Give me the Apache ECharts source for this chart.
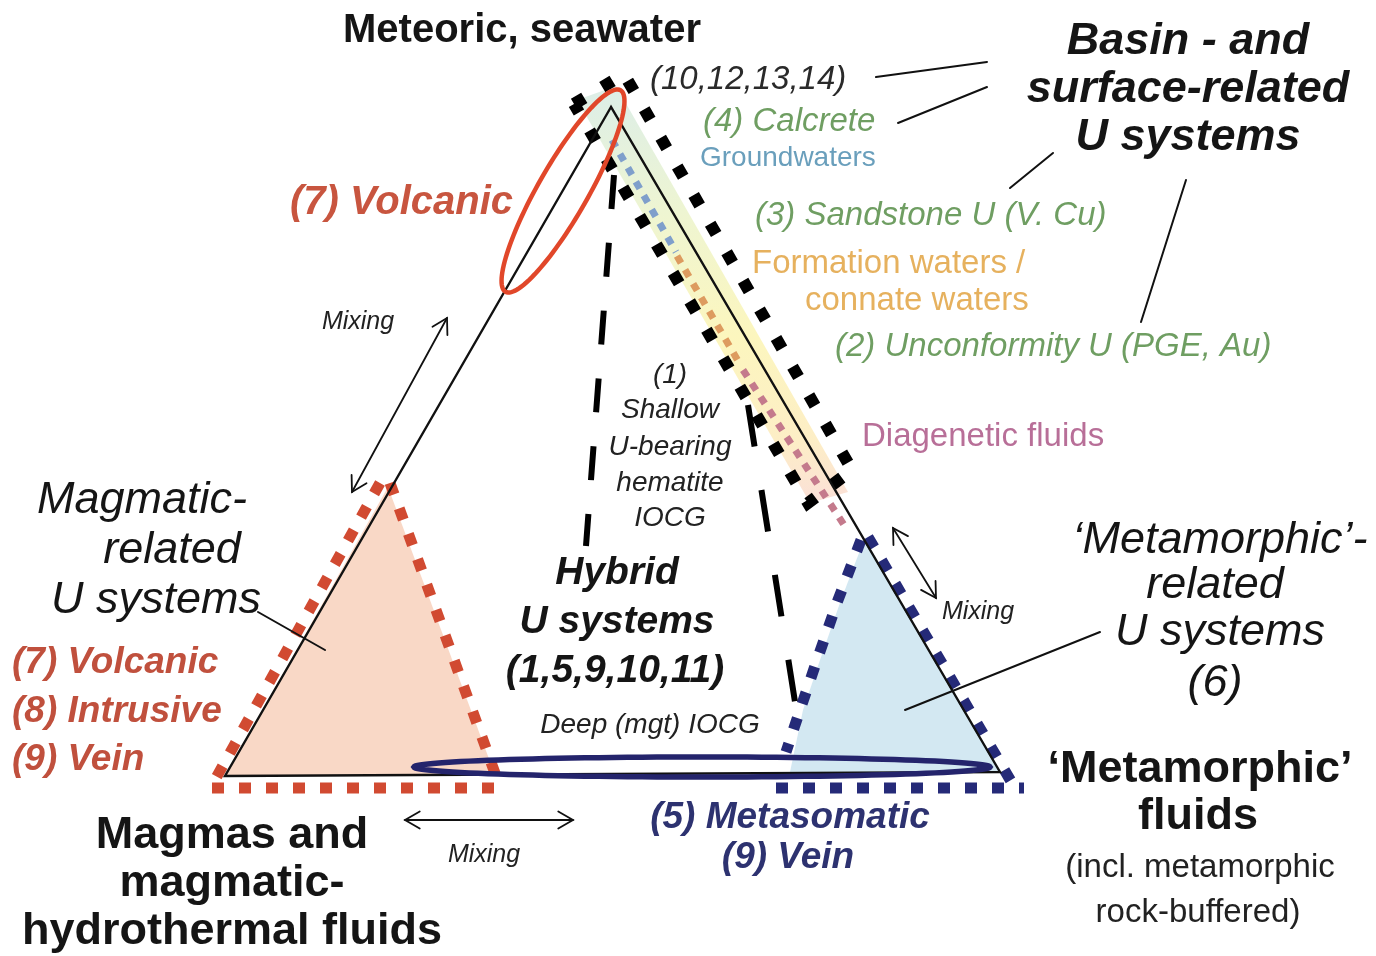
<!DOCTYPE html>
<html><head><meta charset="utf-8">
<script src="https://cdn.jsdelivr.net/npm/echarts@6/dist/echarts.min.js"></script>
<style>html,body{margin:0;padding:0;background:#fff}#c{width:1376px;height:956px}</style>
</head><body><div id="c"></div>
<script>
// ---------- diagram geometry (diagram units, y downward) ----------
const mainTriangle = [[611,107],[225,776],[1000,772]];
const magmaticFill = [[388,487],[226,775],[495,775]];
const magmaticDotLeft = [[380,483],[211,787]];
const magmaticDotRight = [[390,483],[500,787]];
const magmaticDotBottom = [[212,788],[503,788]];
const metamorphicFill = [[864,540],[841,600],[820,660],[803,710],[790,772],[1000,772]];
const metamorphicDotLeft = [[861,540],[838,600],[817,660],[800,710],[786,752]];
const metamorphicDotRight = [[868,537],[1012,783]];
const metamorphicDotBottom = [[776,788],[1024,788]];
const basinBand = [[574,104],[624,74],[852,470],[808,503]];
const basinFill = [[577,100],[616,86],[848,492],[810,503]];
const groundwaterDots = [[612,140],[676,252]];
const formationDots = [[677,256],[741,366]];
const diageneticDots = [[743,370],[846,528]];
const hybridDashLeft = [[614,175],[586,546]];
const hybridDashRight = [[748,405],[795,702]];
const volcanicEllipse = [[563,191],[116,25],[113,-198]]; // centre, radii, long-axis direction
const metasomaticEllipse = [[702,767],[288,10],[1,0]];
const mixingArrows = [[[447,318],[352,492]],[[893,528],[936,598]],[[405,820],[573,820]]];
const leaderLines = [[[876,77],[987,62]],[[898,123],[987,87]],[[1010,188],[1053,153]],[[1141,322],[1186,180]],[[258,612],[325,650]],[[905,710],[1100,632]]];

// ---------- labels ----------
const meteoricLabel = [["Meteoric, seawater",522,31]];
const basinTitle = [["Basin - and",1188,42],["surface-related",1188,90],["U systems",1188,138]];
const basinNumbers = [["(10,12,13,14)",650,80]];
const basinDeposits = [["(4) Calcrete",703,122],["(3) Sandstone U (V. Cu)",755,216],["(2) Unconformity U (PGE, Au)",835,347]];
const groundwaterLabel = [["Groundwaters",700,158]];
const formationLabel = [["Formation waters /",752,264],["connate waters",805,301]];
const diageneticLabel = [["Diagenetic fluids",862,437]];
const volcanicTopLabel = [["(7) Volcanic",290,203]];
const mixingLabels = [["Mixing",358,322],["Mixing",978,612],["Mixing",484,855]];
const shallowLabel = [["(1)",670,375],["Shallow",670,410],["U-bearing",670,447],["hematite",670,483],["IOCG",670,518]];
const magmaticTitle = [["Magmatic-",142,500],["related",172,550],["U systems",156,600]];
const magmaticDeposits = [["(7) Volcanic",12,663],["(8) Intrusive",12,712],["(9) Vein",12,760]];
const hybridTitle = [["Hybrid",617,573],["U systems",617,622],["(1,5,9,10,11)",615,671]];
const deepLabel = [["Deep (mgt) IOCG",650,725]];
const metamorphicTitle = [["\u2018Metamorphic\u2019-",1220,540],["related",1215,585],["U systems",1220,632],["(6)",1215,683]];
const endMemberLabels = [["\u2018Metamorphic\u2019",1200,770],["fluids",1198,817],["Magmas and",232,836],["magmatic-",232,884],["hydrothermal fluids",232,932]];
const metamorphicNote = [["(incl. metamorphic",1200,868],["rock-buffered)",1198,913]];
const metasomaticLabel = [["(5) Metasomatic",790,818],["(9) Vein",788,858]];

// ---------- rendering ----------
const FONT = "'Liberation Sans', Arial, Helvetica, sans-serif";
const chart = echarts.init(document.getElementById('c'));

function shapeSeries(z, build) {
  return {
    type: 'custom', coordinateSystem: 'cartesian2d', data: [[0, 0]], silent: true, z: z,
    animation: false, clip: false,
    renderItem: (params, api) => ({ type: 'group', children: build(pts => pts.map(p => api.coord(p))) })
  };
}
function dotted(points, color, width, dash) {
  return { type: 'polyline', shape: { points: points }, style: { stroke: color, lineWidth: width, lineDash: dash, lineCap: 'butt', lineJoin: 'miter', fill: null } };
}
function solid(points, color, width) {
  return { type: 'polyline', shape: { points: points }, style: { stroke: color, lineWidth: width, fill: null, lineCap: 'round' } };
}
function ellipsePts(e, n) {
  const c = e[0], a = e[1][0], b = e[1][1];
  const L = Math.hypot(e[2][0], e[2][1]);
  const u = [e[2][0] / L, e[2][1] / L], v = [-u[1], u[0]];
  const out = [];
  for (let i = 0; i < n; i++) {
    const t = 2 * Math.PI * i / n;
    out.push([c[0] + a * Math.cos(t) * u[0] + b * Math.sin(t) * v[0], c[1] + a * Math.cos(t) * u[1] + b * Math.sin(t) * v[1]]);
  }
  return out;
}
function arrowHeads(pA, pB) {
  const res = [];
  [[pA, pB], [pB, pA]].forEach(([s, e]) => {
    const dx = e[0] - s[0], dy = e[1] - s[1], L = Math.hypot(dx, dy);
    const ux = dx / L, uy = dy / L, h = 17, ang = Math.PI / 6;
    const r = (x, y, a) => [x * Math.cos(a) - y * Math.sin(a), x * Math.sin(a) + y * Math.cos(a)];
    const l1 = r(-ux, -uy, ang), l2 = r(-ux, -uy, -ang);
    res.push([[e[0] + l1[0] * h, e[1] + l1[1] * h], e, [e[0] + l2[0] * h, e[1] + l2[1] * h]]);
  });
  return res;
}
function textSeries(items, font, color, align, z) {
  return {
    type: 'custom', coordinateSystem: 'cartesian2d', silent: true, z: z || 20, animation: false, clip: false,
    data: items.map(d => [d[1], d[2]]),
    renderItem: (params, api) => {
      const p = api.coord([api.value(0), api.value(1)]);
      return { type: 'text', x: p[0], y: p[1], style: { text: items[params.dataIndex][0], font: font, fill: color, align: align, verticalAlign: 'middle' } };
    }
  };
}

const RED = '#d14a31', NAVY = '#252a78', BLACK = '#111111';
const bandGradient = new echarts.graphic.LinearGradient(0, 0, 0, 1, [
  { offset: 0, color: '#dceee8' }, { offset: 0.3, color: '#eef5d2' }, { offset: 0.6, color: '#fcf6be' },
  { offset: 0.85, color: '#fdeec6' }, { offset: 1, color: '#fbe0d8' }]);

const series = [
  // fills
  shapeSeries(1, c => [
    { type: 'polygon', shape: { points: c(magmaticFill) }, style: { fill: '#f9d8c6' } },
    { type: 'polygon', shape: { points: c(metamorphicFill) }, style: { fill: '#d3e8f2' } },
    { type: 'polygon', shape: { points: c(basinFill) }, style: { fill: bandGradient } }
  ]),
  // fluid-type dots along the basin edge
  shapeSeries(2, c => [
    dotted(c(groundwaterDots), '#7f9fcb', 7, [8, 8]),
    dotted(c(formationDots), '#dd9b5f', 7, [8, 8]),
    dotted(c(diageneticDots), '#c47a8c', 7, [8, 8])
  ]),
  // dotted system boundaries
  shapeSeries(3, c => [
    dotted(c(magmaticDotLeft), RED, 11, [12, 15]),
    dotted(c(magmaticDotRight), RED, 11, [12, 15]),
    dotted(c(magmaticDotBottom), RED, 11, [12, 15]),
    dotted(c(metamorphicDotLeft), NAVY, 11, [12, 15]),
    dotted(c(metamorphicDotRight), NAVY, 11, [12, 15]),
    dotted(c(metamorphicDotBottom), NAVY, 11, [12, 15]),
    dotted(c(basinBand.concat([basinBand[0]])), '#000', 12, [12, 21])
  ]),
  // main triangle
  shapeSeries(4, c => [
    { type: 'polygon', shape: { points: c(mainTriangle) }, style: { fill: null, stroke: BLACK, lineWidth: 2.4 } }
  ]),
  // ellipses
  shapeSeries(5, c => [
    { type: 'polygon', shape: { points: c(ellipsePts(metasomaticEllipse, 120)) }, style: { fill: null, stroke: '#24246c', lineWidth: 5.5 } },
    { type: 'polygon', shape: { points: c(ellipsePts(volcanicEllipse, 120)) }, style: { fill: null, stroke: '#e1472a', lineWidth: 4.5 } }
  ]),
  // hybrid dashed lines
  shapeSeries(6, c => [
    dotted(c(hybridDashLeft), '#000', 6, [34, 34]),
    dotted(c(hybridDashRight), '#000', 6, [42, 44])
  ]),
  // arrows and leaders
  shapeSeries(7, c => {
    const out = [];
    mixingArrows.forEach(a => {
      out.push(solid(c(a), '#111', 1.8));
      arrowHeads(a[0], a[1]).forEach(h => out.push(solid(c(h), '#111', 1.8)));
    });
    leaderLines.forEach(l => out.push(solid(c(l), '#111', 2)));
    return out;
  }),
  // labels
  textSeries(meteoricLabel, 'bold 40px ' + FONT, '#151515', 'center'),
  textSeries(basinTitle, 'italic bold 45px ' + FONT, '#151515', 'center'),
  textSeries(basinNumbers, 'italic 33px ' + FONT, '#2a2a2a', 'left'),
  textSeries(basinDeposits, 'italic 33px ' + FONT, '#6f9e62', 'left'),
  textSeries(groundwaterLabel, '28px ' + FONT, '#6a9fbc', 'left'),
  textSeries(formationLabel, '33px ' + FONT, '#e6b15e', 'left'),
  textSeries(diageneticLabel, '33px ' + FONT, '#b86f98', 'left'),
  textSeries(volcanicTopLabel, 'italic bold 40px ' + FONT, '#c8553f', 'left'),
  textSeries(mixingLabels, 'italic 25px ' + FONT, '#222', 'center'),
  textSeries(shallowLabel, 'italic 28px ' + FONT, '#222', 'center'),
  textSeries(magmaticTitle, 'italic 45px ' + FONT, '#151515', 'center'),
  textSeries(magmaticDeposits, 'italic bold 37px ' + FONT, '#c0503d', 'left'),
  textSeries(hybridTitle, 'italic bold 39px ' + FONT, '#151515', 'center'),
  textSeries(deepLabel, 'italic 28px ' + FONT, '#222', 'center'),
  textSeries(metamorphicTitle, 'italic 45px ' + FONT, '#151515', 'center'),
  textSeries(endMemberLabels, 'bold 45px ' + FONT, '#151515', 'center'),
  textSeries(metamorphicNote, '33px ' + FONT, '#222', 'center'),
  textSeries(metasomaticLabel, 'italic bold 37px ' + FONT, '#2d3270', 'center')
];

chart.setOption({
  animation: false,
  backgroundColor: '#ffffff',
  grid: { left: 0, right: 0, top: 0, bottom: 0 },
  xAxis: { type: 'value', min: 0, max: 1376, show: false },
  yAxis: { type: 'value', min: 0, max: 956, inverse: true, show: false },
  series: series
});
</script>
</body></html>
